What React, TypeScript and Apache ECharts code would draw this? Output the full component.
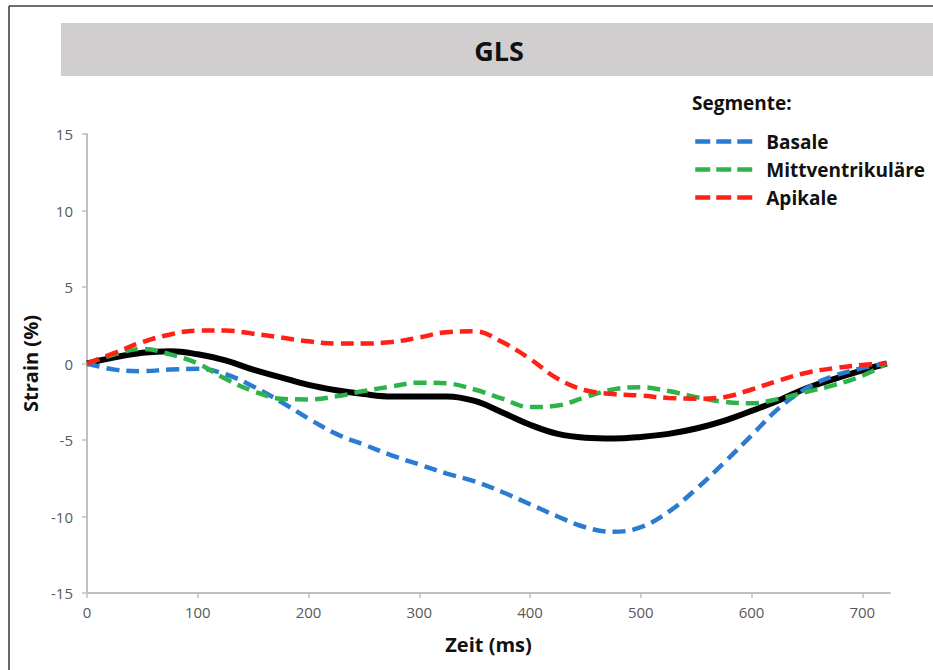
import React, { useEffect, useRef } from "react";
import * as echarts from "echarts";

const times = [0, 25, 50, 75, 100, 125, 150, 175, 200, 225, 250, 275, 300, 325, 350, 375, 400, 425, 450, 475, 500, 525, 550, 575, 600, 625, 650, 675, 700, 722];

const mittelwert = [0, 0.4, 0.7, 0.8, 0.6, 0.2, -0.4, -0.9, -1.4, -1.75, -2.0, -2.15, -2.15, -2.15, -2.45, -3.2, -4.0, -4.6, -4.85, -4.9, -4.8, -4.6, -4.25, -3.75, -3.1, -2.4, -1.6, -1.0, -0.45, 0];
const basale = [0, -0.4, -0.5, -0.4, -0.35, -0.7, -1.5, -2.5, -3.6, -4.6, -5.3, -6.0, -6.6, -7.2, -7.7, -8.4, -9.2, -10.0, -10.7, -11.0, -10.7, -9.7, -8.2, -6.5, -4.7, -2.9, -1.6, -0.8, -0.3, 0];
const mittventrikulaere = [0, 0.6, 0.95, 0.6, 0.0, -1.0, -1.8, -2.3, -2.35, -2.15, -1.8, -1.5, -1.25, -1.3, -1.7, -2.3, -2.85, -2.75, -2.2, -1.7, -1.55, -1.8, -2.2, -2.5, -2.6, -2.3, -1.85, -1.4, -0.8, 0];
const apikale = [0, 0.7, 1.4, 1.9, 2.15, 2.15, 1.95, 1.7, 1.45, 1.3, 1.3, 1.4, 1.7, 2.05, 2.1, 1.4, 0.3, -1.0, -1.75, -2.0, -2.1, -2.25, -2.3, -2.2, -1.7, -1.1, -0.6, -0.3, -0.1, 0];

const xTicks = [0, 100, 200, 300, 400, 500, 600, 700];
const seriesNames = ["Basale", "Mittventrikuläre", "Apikale"];

const FONT = "'Open Sans', 'DejaVu Sans', sans-serif";

function pairs(vals: number[]) {
  return times.map((t, i) => [t, vals[i]]);
}

export default function App() {
  const ref = useRef<HTMLDivElement>(null);
  useEffect(() => {
    if (!ref.current) return;
    const chart = echarts.init(ref.current, null, { renderer: "svg" });
    const dashed = (color: string) => ({
      color,
      width: 4.5,
      type: [13, 7] as any,
    });
    chart.setOption({
      animation: false,
      backgroundColor: "#ffffff",
      textStyle: { fontFamily: FONT },
      graphic: [
        { type: "line", shape: { x1: 9, y1: 6, x2: 933, y2: 6 }, style: { stroke: "#6e6e6e", lineWidth: 2 } },
        { type: "line", shape: { x1: 9, y1: 6, x2: 9, y2: 670 }, style: { stroke: "#333333", lineWidth: 1.5 } },
        { type: "rect", shape: { x: 61, y: 23, width: 872, height: 53 }, style: { fill: "#d0cece" } },
        {
          type: "text",
          x: 499,
          y: 50,
          style: { text: "GLS", fontFamily: FONT, fontWeight: "bold", fontSize: 27, fill: "#111111", align: "center", verticalAlign: "middle" },
        },
        {
          type: "text",
          x: 692,
          y: 103,
          style: { text: "Segmente:", fontFamily: FONT, fontWeight: "bold", fontSize: 19, fill: "#111111", align: "left", verticalAlign: "middle" },
        },
      ],
      legend: {
        data: seriesNames,
        orient: "vertical",
        left: 693,
        top: 131,
        padding: 0,
        itemWidth: 57,
        itemHeight: 14,
        itemGap: 7,
        itemStyle: { opacity: 0 },
        lineStyle: { width: 4.5, type: [15, 6] as any },
        textStyle: { fontFamily: FONT, fontWeight: "bold", fontSize: 19, color: "#111111", lineHeight: 21, padding: [0, 0, 0, 9] },
      },
      grid: { left: 87, top: 134, width: 803, height: 459, containLabel: false },
      xAxis: {
        type: "value",
        min: 0,
        max: 725,
        interval: 100,
        name: "Zeit (ms)",
        nameLocation: "middle",
        nameGap: 41,
        nameTextStyle: { fontFamily: FONT, fontWeight: "bold", fontSize: 20, color: "#111111" },
        axisLine: { show: true, onZero: false, lineStyle: { color: "#c0c0c0", width: 2 } },
        axisTick: { show: true, length: 5, lineStyle: { color: "#c0c0c0", width: 1.5 }, customValues: xTicks },
        axisLabel: { color: "#595959", fontSize: 15, margin: 11, fontFamily: FONT, customValues: xTicks },
        splitLine: { show: false },
      },
      yAxis: {
        type: "value",
        min: -15,
        max: 15,
        interval: 5,
        name: "Strain (%)",
        nameLocation: "middle",
        nameGap: 47,
        nameRotate: 90,
        nameTextStyle: { fontFamily: FONT, fontWeight: "bold", fontSize: 20, color: "#111111" },
        axisLine: { show: true, onZero: false, lineStyle: { color: "#c0c0c0", width: 2 } },
        axisTick: { show: true, length: 5, lineStyle: { color: "#c0c0c0", width: 1.5 } },
        axisLabel: { color: "#595959", fontSize: 15, margin: 14, fontFamily: FONT },
        splitLine: { show: false },
      },
      series: [
        {
          name: "Mittelwert",
          type: "line",
          data: pairs(mittelwert),
          smooth: 0.4,
          symbol: "none",
          lineStyle: { color: "#000000", width: 6 },
          z: 1,
        },
        {
          name: "Basale",
          type: "line",
          data: pairs(basale),
          smooth: 0.4,
          symbol: "none",
          itemStyle: { color: "#2b7bd1" },
          lineStyle: dashed("#2b7bd1"),
          z: 2,
        },
        {
          name: "Mittventrikuläre",
          type: "line",
          data: pairs(mittventrikulaere),
          smooth: 0.4,
          symbol: "none",
          itemStyle: { color: "#2eb34a" },
          lineStyle: dashed("#2eb34a"),
          z: 3,
        },
        {
          name: "Apikale",
          type: "line",
          data: pairs(apikale),
          smooth: 0.4,
          symbol: "none",
          itemStyle: { color: "#ff2016" },
          lineStyle: dashed("#ff2016"),
          z: 4,
        },
      ],
    });
    return () => chart.dispose();
  }, []);
  return <div ref={ref} style={{ width: 933, height: 670, position: "absolute", left: 0, top: 0 }} />;
}
